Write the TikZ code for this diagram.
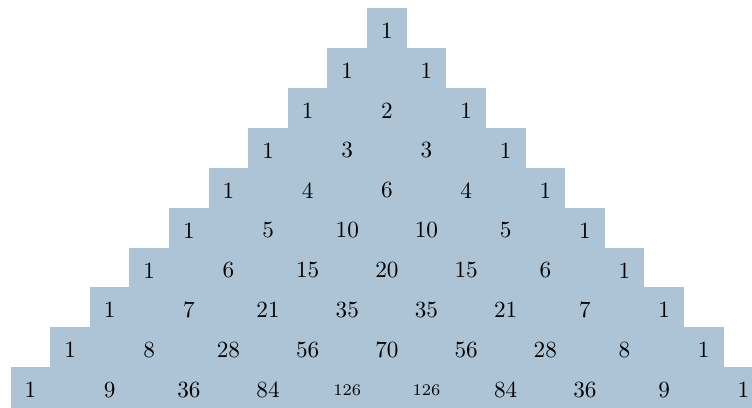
\documentclass[tikz,border=0pt]{standalone}
\usepackage{tikz}
\usepackage{xcolor}
\definecolor{pascalblue}{RGB}{172,196,214}

\begin{document}
\begin{tikzpicture}[x=0.6cm, y=0.605cm,
  entry/.style={inner sep=0pt, font=\normalsize}]
  \clip (0,0) rectangle (18.99,10.2);
  % one band per row, top row first
  \foreach \vals [count=\n from 0] in {{1},{1,1},{1,2,1},{1,3,3,1},{1,4,6,4,1},
      {1,5,10,10,5,1},{1,6,15,20,15,6,1},{1,7,21,35,35,21,7,1},
      {1,8,28,56,70,56,28,8,1},{1,9,36,84,126,126,84,36,9,1}}{
    \pgfmathsetmacro{\ytop}{10-\n}
    \fill[pascalblue] (9.77-\n-0.5,\ytop-1.02) rectangle (9.77+\n+0.5,\ytop);
    % entries of the row
    \foreach \v [count=\k from 0] in \vals {
      \node[entry] (p-\n-\k) at (9.77+2*\k-\n,\ytop-0.57)
        {\ifnum\v>99 \scriptsize\fi\v};
    }
  }
\end{tikzpicture}
\end{document}
